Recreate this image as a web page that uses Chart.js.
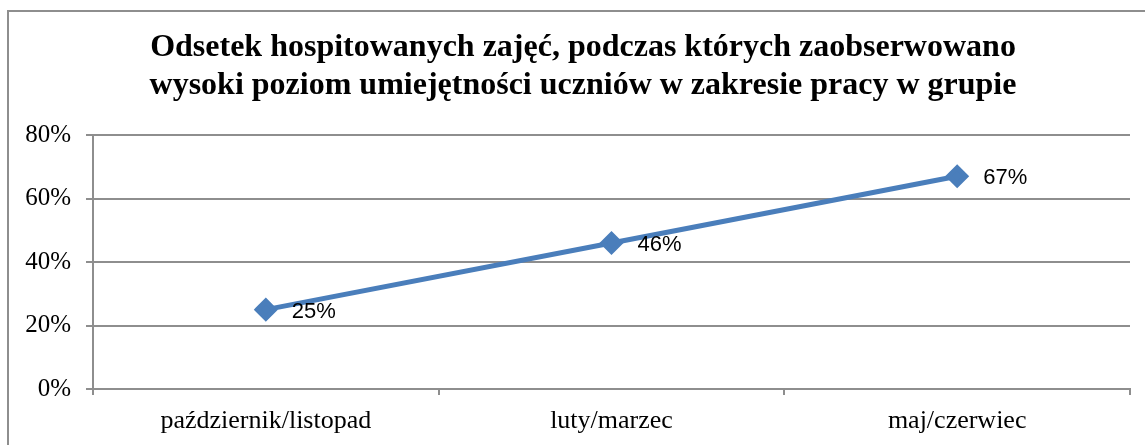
<!DOCTYPE html>
<html>
<head>
<meta charset="utf-8">
<script src="https://cdn.jsdelivr.net/npm/chart.js@4/dist/chart.umd.min.js"></script>
<style>
  body { margin: 0; background: #fff; }
  canvas { display: block; }
</style>
</head>
<body>
<canvas id="chart" width="1145" height="445"></canvas>
<script>
// dane z wykresu
const titleLines = [
  'Odsetek hospitowanych zajęć, podczas których zaobserwowano',
  'wysoki poziom umiejętności uczniów w zakresie pracy w grupie'
];
const categories = ['październik/listopad', 'luty/marzec', 'maj/czerwiec'];
const values = [25, 46, 67];
const yTicks = [0, 20, 40, 60, 80];

const gray = '#8e8e8e';
const serif = "'Liberation Serif', 'DejaVu Serif', serif";

// ramka + białe tło
const framePlugin = {
  id: 'frame',
  afterLayout(chart) {
    // tytuł wyśrodkowany nad ramką, nie nad całym płótnem
    if (chart.titleBlock) chart.titleBlock.left = 36;
  },
  beforeDraw(chart) {
    const ctx = chart.ctx;
    ctx.save();
    ctx.fillStyle = '#fff';
    ctx.fillRect(0, 0, chart.width, chart.height);
    ctx.strokeStyle = gray;
    ctx.lineWidth = 2;
    ctx.strokeRect(8, 11, chart.width + 20, chart.height + 20);
    ctx.restore();
  }
};

// etykiety wartości obok punktów
const valueLabels = {
  id: 'valueLabels',
  afterDatasetsDraw(chart) {
    const ctx = chart.ctx;
    const meta = chart.getDatasetMeta(0);
    ctx.save();
    ctx.font = "22px 'Liberation Sans', Arial, sans-serif";
    ctx.fillStyle = '#000';
    ctx.textAlign = 'left';
    ctx.textBaseline = 'middle';
    meta.data.forEach((pt, i) => {
      ctx.fillText(values[i] + '%', pt.x + 26, pt.y + 2);
    });
    ctx.restore();
  }
};

new Chart(document.getElementById('chart'), {
  type: 'line',
  data: {
    labels: categories,
    datasets: [{
      data: values,
      borderColor: '#4a7ebb',
      backgroundColor: '#4a7ebb',
      borderWidth: 5,
      pointStyle: 'rectRot',
      pointRadius: 8.5,
      pointHoverRadius: 8.5,
      tension: 0
    }]
  },
  options: {
    responsive: false,
    animation: false,
    layout: { padding: { left: 0, right: 15, top: 0, bottom: 0 } },
    plugins: {
      legend: { display: false },
      tooltip: { enabled: false },
      title: {
        display: true,
        text: titleLines,
        color: '#000',
        font: { family: serif, size: 32, weight: 'bold', lineHeight: 38 / 32 },
        padding: { top: 29, bottom: 30 }
      }
    },
    scales: {
      x: {
        offset: true,
        grid: {
          offset: true,
          drawOnChartArea: false,
          drawTicks: true,
          tickLength: 6,
          color: gray,
          lineWidth: 2
        },
        border: { display: true, color: gray, width: 2 },
        ticks: {
          color: '#000',
          padding: 11,
          font: { family: serif, size: 26 },
          maxRotation: 0
        },
        afterFit(scale) { scale.height = 56; }
      },
      y: {
        min: 0,
        max: 80,
        afterBuildTicks(scale) { scale.ticks = yTicks.map(v => ({ value: v })); },
        grid: {
          color: gray,
          lineWidth: 2,
          tickLength: 7
        },
        border: { display: true, color: gray, width: 2 },
        ticks: {
          color: '#000',
          padding: 15,
          font: { family: serif, size: 25 },
          callback: v => v + '%'
        },
        afterFit(scale) { scale.width = 93; }
      }
    }
  },
  plugins: [framePlugin, valueLabels]
});
</script>
</body>
</html>
